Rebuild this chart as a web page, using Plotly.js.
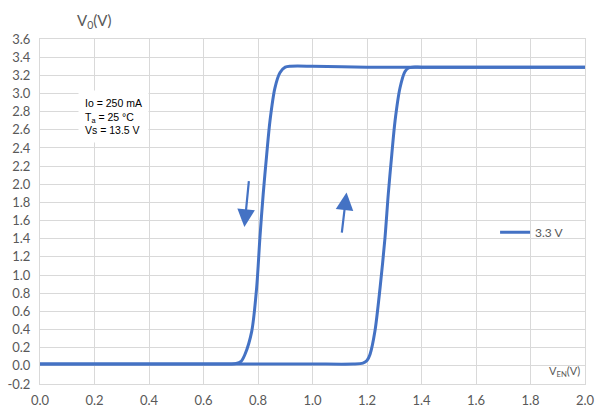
<!DOCTYPE html>
<html>
<head>
<meta charset="utf-8">
<script src="https://cdn.plot.ly/plotly-3.0.1.min.js"></script>
<style>html,body{margin:0;padding:0;background:#fff;}#chart{width:596px;height:410px;}</style>
</head>
<body>
<div id="chart"></div>
<script>
// Rising sweep (V_EN increasing)
const upX = [0, 0.2, 0.4, 0.6, 0.8, 1.0, 1.15, 1.185, 1.2, 1.211, 1.229, 1.248, 1.266, 1.278, 1.291, 1.303, 1.321, 1.339, 1.352, 1.366, 1.4, 1.6, 1.8, 2.0];
const upY = [0.02, 0.02, 0.02, 0.02, 0.02, 0.02, 0.02, 0.03, 0.06, 0.125, 0.38, 0.86, 1.41, 1.89, 2.33, 2.70, 3.06, 3.24, 3.28, 3.29, 3.29, 3.29, 3.29, 3.29];
// Falling sweep (V_EN decreasing)
const downX = [2.0, 1.8, 1.6, 1.4, 1.2, 1.0, 0.92, 0.9, 0.881, 0.862, 0.844, 0.832, 0.819, 0.807, 0.795, 0.777, 0.752, 0.738, 0.72, 0.7, 0.6, 0.4, 0.2, 0];
const downY = [3.29, 3.29, 3.29, 3.29, 3.29, 3.30, 3.30, 3.29, 3.23, 3.06, 2.70, 2.33, 1.89, 1.41, 0.86, 0.38, 0.125, 0.05, 0.025, 0.02, 0.02, 0.02, 0.02, 0.02];
const seriesName = "3.3 V";
const yTicks = [-0.2, 0.0, 0.2, 0.4, 0.6, 0.8, 1.0, 1.2, 1.4, 1.6, 1.8, 2.0, 2.2, 2.4, 2.6, 2.8, 3.0, 3.2, 3.4, 3.6];
const xTicks = [0.0, 0.2, 0.4, 0.6, 0.8, 1.0, 1.2, 1.4, 1.6, 1.8, 2.0];
// Arrows: [tailX, tailY, tipX, tipY]
const arrowDown = [0.767, 2.05, 0.750, 1.53];
const arrowUp = [1.107, 1.45, 1.125, 1.91];
const conditions = ["Io = 250 mA", "T<sub>a</sub> = 25 °C", "Vs = 13.5 V"];

const blue = "#4472C4";
const grey = "#595959";
const grid = "#d9d9d9";

const traces = [{
  x: upX, y: upY,
  type: "scatter", mode: "lines", name: seriesName, legendgroup: "s",
  line: {color: blue, width: 3, shape: "spline", smoothing: 0.8}
}, {
  x: downX, y: downY,
  type: "scatter", mode: "lines", name: seriesName, legendgroup: "s", showlegend: false,
  line: {color: blue, width: 3, shape: "spline", smoothing: 0.8}
}];

function arrow(a) {
  return {
    x: a[2], y: a[3], ax: a[0], ay: a[1],
    xref: "x", yref: "y", axref: "x", ayref: "y",
    showarrow: true, arrowhead: 2, arrowsize: 1.6, arrowwidth: 2.2,
    arrowcolor: blue, text: ""
  };
}

const layout = {
  width: 596, height: 410,
  margin: {l: 40, r: 11, t: 39, b: 26},
  paper_bgcolor: "#fff", plot_bgcolor: "#fff",
  font: {family: "Lato, 'Liberation Sans', sans-serif", color: grey, size: 13},
  showlegend: true,
  legend: {x: 0.835, y: 0.44, xanchor: "left", yanchor: "middle",
           bgcolor: "rgba(0,0,0,0)", font: {size: 12, color: grey}},
  xaxis: {
    range: [0, 2.0], tickvals: xTicks, ticktext: xTicks.map(v => v.toFixed(1)),
    showgrid: true, gridcolor: grid, gridwidth: 1, zeroline: false,
    showline: true, linecolor: grid, linewidth: 1, mirror: true,
    ticks: "outside", ticklen: 4, tickcolor: "rgba(0,0,0,0)",
    tickfont: {size: 13, color: grey}
  },
  yaxis: {
    range: [-0.2, 3.6], tickvals: yTicks, ticktext: yTicks.map(v => v.toFixed(1)),
    showgrid: true, gridcolor: grid, gridwidth: 1, zeroline: false,
    showline: true, linecolor: grid, linewidth: 1, mirror: true,
    ticks: "outside", ticklen: 6, tickcolor: "rgba(0,0,0,0)",
    tickfont: {size: 13, color: grey}
  },
  annotations: [
    {text: "V<sub>0</sub>(V)", xref: "paper", yref: "paper", x: 0.064, y: 1.0,
     xanchor: "left", yanchor: "bottom", yshift: 6, showarrow: false,
     font: {size: 15, color: grey}},
    {text: "V<sub>EN</sub>(V)", xref: "paper", yref: "paper", x: 0.995, y: 0,
     xanchor: "right", yanchor: "bottom", yshift: 3, showarrow: false,
     font: {size: 11, color: grey}},
    {text: conditions.join("<br>"), xref: "x", yref: "y", x: 0.14, y: 2.745,
     xanchor: "left", yanchor: "middle", align: "left", showarrow: false,
     bgcolor: "#fff", borderpad: 6,
     font: {family: "'Liberation Sans', Arial, sans-serif", size: 10.5, color: "#000"}},
    arrow(arrowDown),
    arrow(arrowUp)
  ]
};

Plotly.newPlot("chart", traces, layout, {displayModeBar: false, staticPlot: true});
</script>
</body>
</html>
